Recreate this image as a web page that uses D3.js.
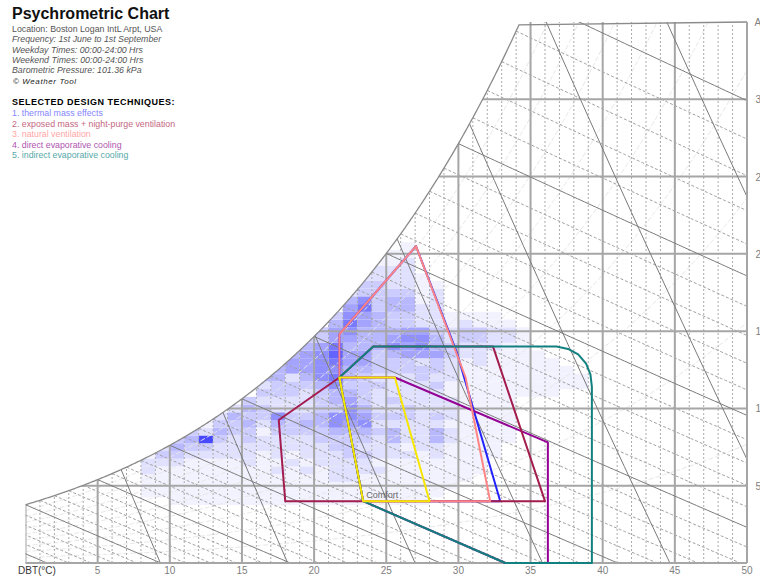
<!DOCTYPE html>
<html>
<head>
<meta charset="utf-8">
<script src="https://d3js.org/d3.v7.min.js"></script>
<style>
  body { margin: 0; background: #fff; }
  svg { display: block; font-family: "Liberation Sans", Arial, sans-serif; }
</style>
</head>
<body>
<svg id="chart"></svg>
<script>
// chart values
var pressure = 101.36
var dbtTicks = [5, 10, 15, 20, 25, 30, 35, 40, 45, 50]
var ahTicks = [5, 10, 15, 20, 25, 30]
var rhLevels = [10, 20, 30, 40, 50, 60, 70, 80, 90]
var wetBulbTemps = [-12, -11, -10, -9, -8, -7, -6, -5, -4, -3, -2, -1, 0, 1, 2, 3, 4, 5, 6, 7, 8, 9, 10,
  11, 12, 13, 14, 15, 16, 17, 18, 19, 20, 21, 22, 23, 24, 25, 26, 27, 28, 29, 30, 31, 32, 33, 34, 35]
var volumeLevels = [0.8, 0.825, 0.85, 0.875, 0.9, 0.925, 0.95]

var infoLines = ["Location: Boston Logan IntL Arpt, USA",
  "Frequency: 1st June to 1st September",
  "Weekday Times: 00:00-24:00 Hrs",
  "Weekend Times: 00:00-24:00 Hrs",
  "Barometric Pressure: 101.36 kPa"]
var techniques = ["1. thermal mass effects",
  "2. exposed mass + night-purge ventilation",
  "3. natural ventilation",
  "4. direct evaporative cooling",
  "5. indirect evaporative cooling"]
var techniqueColors = ["#8585ff", "#c4677f", "#ffa6a6", "#b055b0", "#55a8a8"]

// zones, [DBT degC, AH g/kg]
var comfortZone = [[23.4, 4], [28.0, 4], [25.6, 12], [21.75, 12]]
var thermalMass = [[21.75, 12], [21.75, 14.8], [27.06, 20.5], [29.9, 13.6], [32.9, 4], [23.4, 4]]
var exposedMass = [[17.55, 9.25], [18.0, 4], [36.0, 4], [32.4, 14], [24.1, 14], [21.75, 12]]
var naturalVent = [[21.75, 12], [21.75, 14.8], [27.06, 20.5], [30.5, 12], [32.2, 4], [23.4, 4]]
var directEvap = [[21.75, 12], [25.6, 12], [36.2, 7.8], [36.2, 0], [33.25, 0], [23.4, 4]]
var indirectEvap = [[21.75, 12], [24.1, 14], [36.8, 14], [37.6, 13.85], [38.3, 13.5], [38.85, 12.9],
  [39.15, 12.2], [39.25, 11.4], [39.25, 0], [33.25, 0], [23.4, 4]]

// hourly frequency cells: columns by DBT, rows from 4 g/kg every 0.5 g/kg
var cellTemps = [8, 9, 10, 11, 12, 13, 14, 15, 16, 17, 18, 19, 20, 21, 22, 23, 24, 25, 26, 27, 28, 29, 30,
  31, 32, 33, 34, 35, 36, 37, 38]
var cellBase = 4
var cellLevels = [
  [0, 1, 1, 1, 2, 2, 1],
  [0, 1, 1, 1, 1, 2, 3, 2],
  [1, 1, 1, 1, 1, 2, 3, 4, 3],
  [1, 1, 1, 1, 1, 1, 2, 3, 4, 3],
  [1, 1, 1, 1, 1, 1, 2, 3, 9, 2, 1],
  [1, 1, 1, 1, 1, 1, 2, 2, 3, 4, 3, 2],
  [1, 1, 1, 1, 1, 1, 2, 2, 2, 3, 3, 4, 2],
  [1, 1, 1, 1, 1, 2, 2, 2, 3, 3, 4, 3, 4, 3],
  [1, 1, 1, 1, 1, 1, 1, 2, 2, 1, 2, 3, 3, 2, 3, 2, 4],
  [1, 1, 1, 1, 2, 1, 2, 2, 2, 3, 4, 6, 2, 2, 3, 3, 4, 4, 4],
  [1, 1, 1, 1, 1, 2, 1, 2, 2, 3, 3, 3, 2, 2, 3, 3, 2, 5, 5, 4],
  [1, 1, 1, 1, 2, 1, 2, 2, 2, 3, 4, 3, 2, 2, 2, 3, 4, 5, 5, 5, 4, 3],
  [1, 1, 1, 1, 1, 2, 2, 2, 3, 3, 4, 4, 3, 3, 3, 4, 6, 6, 6, 6, 5, 3, 3],
  [1, 1, 1, 2, 2, 2, 2, 3, 3, 4, 6, 6, 3, 4, 4, 6, 7, 6, 7, 8, 7, 5, 5, 4, 3],
  [1, 1, 1, 2, 2, 2, 3, 3, 3, 4, 5, 6, 6, 5, 4, 3, 4, 4, 5, 5, 4, 5, 6, 7, 6, 5, 4, 2],
  [1, 1, 1, 1, 2, 2, 3, 2, 3, 4, 6, 5, 4, 3, 3, 3, 3, 4, 5, 5, 4, 4, 4, 5, 5, 7, 6, 3, 3, 2],
  [1, 1, 1, 1, 2, 1, 2, 2, 2, 3, 2, 3, 2, 2, 2, 3, 2, 3, 3, 3, 4, 4, 4, 4, 4, 3, 3, 3, 3, 2, 2, 1],
  [1, 1, 1, 1, 1, 1, 2, 2, 4, 4, 2, 3, 2, 3, 2, 2, 2, 3, 3, 4, 6, 5, 4, 3, 3, 4, 4, 3, 2, 2, 2, 1, 1],
  [1, 1, 1, 1, 1, 1, 2, 1, 2, 2, 2, 3, 3, 2, 2, 2, 2, 3, 3, 5, 5, 6, 5, 3, 3, 4, 4, 3, 2, 2, 2, 2, 1, 1],
  [1, 1, 1, 1, 1, 1, 1, 2, 2, 2, 2, 2, 2, 2, 2, 2, 3, 3, 2, 5, 6, 6, 5, 2, 2, 2, 1, 1, 1, 1],
  [0, 1, 1, 1, 1, 1, 2, 2, 4, 4, 2, 3, 2, 2, 2, 3, 2, 3, 3, 5, 4, 4, 3, 2, 2, 2, 2, 2, 1],
  [0, 0, 1, 1, 1, 1, 1, 1, 2, 2, 1, 2, 2, 2, 1, 1, 2, 2, 2, 3, 3, 2, 2, 1, 1],
  [0, 0, 0, 1, 1, 1, 1, 1, 1, 1, 1, 1, 1, 1, 1, 1, 1, 1, 1, 2, 2, 3, 3, 2, 1],
  [0, 0, 0, 0, 1, 1, 1, 1, 1, 1, 1, 1, 1, 1, 1, 1, 1, 1, 2, 2, 2, 3, 3, 1, 1],
  [0, 0, 0, 0, 0, 0, 1, 1, 1, 1, 1, 1, 1, 1, 1, 1, 1, 1, 1, 1, 2, 2, 2, 1, 1],
  [0, 0, 0, 0, 0, 0, 0, 0, 1, 1, 1, 1, 1, 1, 1, 1, 1, 1, 1, 1, 1, 2, 2, 1],
  [0, 0, 0, 0, 0, 0, 0, 0, 0, 0, 0, 0, 0, 0, 1, 1, 1, 1, 1, 1, 1, 1, 1],
  [0, 0, 0, 0, 0, 0, 0, 0, 0, 0, 0, 0, 0, 0, 1, 1, 1, 1, 1, 1],
  [0, 0, 0, 0, 0, 0, 0, 0, 0, 0, 0, 0, 0, 0, 1, 1, 1, 1, 1],
  [0, 0, 0, 0, 0, 0, 0, 0, 0, 0, 0, 0, 0, 0, 0, 1, 1, 1],
  [0, 0, 0, 0, 0, 0, 0, 0, 0, 0, 0, 0, 0, 0, 0, 1, 1]
]
// shade for each frequency level
var levelOpacity = [0, 0.06, 0.14, 0.23, 0.32, 0.41, 0.5, 0.6, 0.7, 0.82]

var dimensions = { width: 760, height: 577 }

var svg = d3.select("#chart")
  .attr("width", dimensions.width)
  .attr("height", dimensions.height)

var x = d3.scaleLinear().domain([0, 50]).range([25.5, 747])
var y = d3.scaleLinear().domain([0, 35]).range([563, 22])

// psychrometric helpers
function pws(t) { return 0.61094 * Math.exp(17.625 * t / (t + 243.04)) }
function wAt(t, rh) { var p = rh * pws(t); return 622 * p / (pressure - p) }
function wWetBulb(t, tw) {
  var ws = wAt(tw, 1) / 1000
  return 1000 * ((2501 - 2.326 * tw) * ws - 1.006 * (t - tw)) / (2501 + 1.86 * t - 4.186 * tw)
}
function wVolume(t, v) { return 1000 * (v * pressure / (0.287042 * (t + 273.15)) - 1) / 1.6078 }

var line = d3.line().x(d => x(d[0])).y(d => y(d[1]))
var steps = d3.range(0, 50.001, 0.1)

// clip area under saturation
var satPts = steps.map(t => [t, Math.min(wAt(t, 1), 35)])
var clipPts = satPts.concat([[50, 0], [0, 0]])
svg.append("clipPath").attr("id", "psy")
  .append("path").attr("d", line(clipPts) + "Z")

var plot = svg.append("g").attr("clip-path", "url(#psy)")

// frequency cells
var shade = d3.interpolateRgb("#ffffff", "#2020ff")
var cells = []
cellLevels.forEach(function(col, i) {
  col.forEach(function(lv, j) {
    if (lv > 0) cells.push({ t: cellTemps[i], w: cellBase + j * 0.5, lv: lv })
  })
})
plot.selectAll("rect.cell")
  .data(cells)
  .join("rect")
  .attr("class", "cell")
  .attr("x", d => x(d.t))
  .attr("y", d => y(d.w + 0.25))
  .attr("width", d => x(d.t + 1) - x(d.t))
  .attr("height", d => y(d.w - 0.25) - y(d.w + 0.25))
  .style("fill", d => shade(levelOpacity[d.lv]))

// relative humidity curves
plot.selectAll("path.rh")
  .data(rhLevels)
  .join("path")
  .attr("class", "rh")
  .attr("d", rh => line(steps.map(t => [t, wAt(t, rh / 100)])))
  .attr("fill", "none")
  .attr("stroke", "#e6e6e6")
  .attr("stroke-dasharray", "5,2")

// 1 degree verticals
plot.selectAll("line.dbt1")
  .data(d3.range(1, 50).filter(t => t % 5 != 0))
  .join("line")
  .attr("class", "dbt1")
  .attr("x1", d => x(d)).attr("x2", d => x(d))
  .attr("y1", y(0)).attr("y2", y(35))
  .attr("stroke", "#ababab")
  .attr("stroke-dasharray", "2,2")

// wet bulb lines
function wbPath(tw) {
  var pts = []
  for (var t = tw; t <= 52; t += 0.25) {
    var w = wWetBulb(t, tw)
    pts.push([t, w])
    if (w < -1) break
  }
  return line(pts)
}
plot.selectAll("path.wb1")
  .data(wetBulbTemps.filter(t => t % 5 != 0))
  .join("path")
  .attr("class", "wb1")
  .attr("d", wbPath)
  .attr("fill", "none")
  .attr("stroke", "#a0a0a0")
  .attr("stroke-dasharray", "3,2")

// horizontal AH lines
plot.selectAll("line.ah")
  .data(ahTicks)
  .join("line")
  .attr("class", "ah")
  .attr("x1", x(0)).attr("x2", x(50))
  .attr("y1", d => y(d)).attr("y2", d => y(d))
  .attr("stroke", "#a6a6a6")
  .attr("stroke-width", 2)

// 5 degree verticals
plot.selectAll("line.dbt5")
  .data([0].concat(dbtTicks))
  .join("line")
  .attr("class", "dbt5")
  .attr("x1", d => x(d)).attr("x2", d => x(d))
  .attr("y1", y(0)).attr("y2", y(35))
  .attr("stroke", "#a6a6a6")
  .attr("stroke-width", 2)

plot.selectAll("path.wb5")
  .data(wetBulbTemps.filter(t => t % 5 == 0))
  .join("path")
  .attr("class", "wb5")
  .attr("d", wbPath)
  .attr("fill", "none")
  .attr("stroke", "#7a7a7a")

// specific volume lines
plot.selectAll("path.vol")
  .data(volumeLevels)
  .join("path")
  .attr("class", "vol")
  .attr("d", v => line(d3.range(-2, 52, 0.5).map(t => [t, wVolume(t, v)])))
  .attr("fill", "none")
  .attr("stroke", "#7a7a7a")

// saturation curve and frame
svg.append("path")
  .attr("d", line(satPts.filter(d => d[1] < 35).concat([[50, 35]])))
  .attr("fill", "none")
  .attr("stroke", "#8a8a8a")
  .attr("stroke-width", 1.3)
svg.append("line")
  .attr("x1", x(0)).attr("x2", x(50)).attr("y1", y(0)).attr("y2", y(0))
  .attr("stroke", "#a6a6a6").attr("stroke-width", 2)
svg.append("line")
  .attr("x1", x(50)).attr("x2", x(50)).attr("y1", y(0)).attr("y2", y(35))
  .attr("stroke", "#a6a6a6").attr("stroke-width", 2)

// design zones
var zones = [
  { pts: thermalMass, color: "#2222ff" },
  { pts: directEvap, color: "#930093" },
  { pts: exposedMass, color: "#a31c4e" },
  { pts: naturalVent, color: "#ff8585" },
  { pts: indirectEvap, color: "#12807f" },
  { pts: comfortZone, color: "#f6e600" }
]
svg.selectAll("path.zone")
  .data(zones)
  .join("path")
  .attr("class", "zone")
  .attr("d", d => line(d.pts) + "Z")
  .attr("fill", "none")
  .attr("stroke", d => d.color)
  .attr("stroke-width", 2)
  .attr("stroke-linejoin", "round")

svg.append("text")
  .attr("x", x(23.4) + 3).attr("y", y(4) - 3)
  .style("font-size", "9px").style("fill", "#666")
  .text("Comfort")

// axis labels
svg.selectAll("text.dbt")
  .data(dbtTicks)
  .join("text")
  .attr("class", "dbt")
  .attr("x", d => x(d)).attr("y", 574)
  .attr("text-anchor", "middle")
  .style("font-size", "10px").style("fill", "#808080")
  .text(d => d)
svg.append("text")
  .attr("x", 18).attr("y", 574)
  .style("font-size", "10px").style("fill", "#333")
  .text("DBT(°C)")

// right scale runs past the page edge, as in the original
svg.selectAll("text.ah")
  .data(ahTicks)
  .join("text")
  .attr("class", "ah")
  .attr("x", 755.5).attr("y", d => y(d) + 4)
  .style("font-size", "10px").style("fill", "#808080")
  .text(d => d)
svg.append("text")
  .attr("x", 754.5).attr("y", y(35) + 4)
  .style("font-size", "10px").style("fill", "#808080")
  .text("AH(g/kg)")

// title block
svg.append("text")
  .attr("x", 12).attr("y", 19)
  .style("font-size", "16px").style("font-weight", "bold").style("fill", "#111")
  .text("Psychrometric Chart")
svg.selectAll("text.info")
  .data(infoLines)
  .join("text")
  .attr("class", "info")
  .attr("x", 12).attr("y", (d, i) => 32 + i * 10.3)
  .style("font-size", "8.8px").style("fill", "#555")
  .style("font-style", (d, i) => i == 0 ? "normal" : "italic")
  .text(d => d)
svg.append("text")
  .attr("x", 13).attr("y", 84)
  .style("font-size", "8px").style("font-style", "italic")
  .style("letter-spacing", "0.6px").style("fill", "#222")
  .text("\u00a9 Weather Tool")
svg.append("text")
  .attr("x", 12).attr("y", 105)
  .style("font-size", "9px").style("font-weight", "bold")
  .style("letter-spacing", "0.5px").style("fill", "#000")
  .text("SELECTED DESIGN TECHNIQUES:")
svg.selectAll("text.tech")
  .data(techniques)
  .join("text")
  .attr("class", "tech")
  .attr("x", 12).attr("y", (d, i) => 116 + i * 10.6)
  .style("font-size", "8.8px")
  .style("fill", (d, i) => techniqueColors[i])
  .text(d => d)
</script>
</body>
</html>
